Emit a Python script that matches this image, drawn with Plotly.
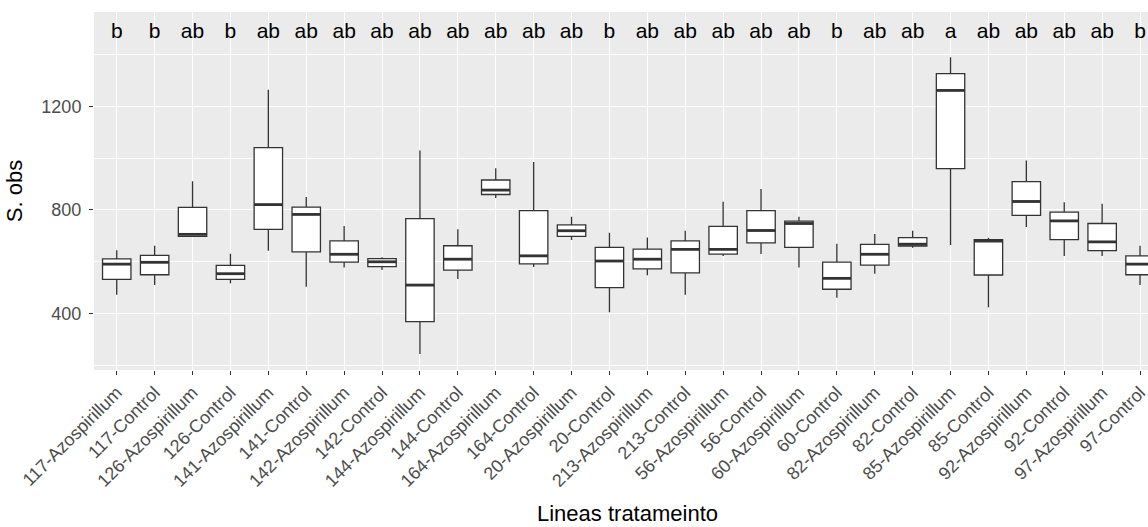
import plotly.graph_objects as go

categories = ["117-Azospirillum", "117-Control", "126-Azospirillum", "126-Control",
              "141-Azospirillum", "141-Control", "142-Azospirillum", "142-Control",
              "144-Azospirillum", "144-Control", "164-Azospirillum", "164-Control",
              "20-Azospirillum", "20-Control", "213-Azospirillum", "213-Control",
              "56-Azospirillum", "56-Control", "60-Azospirillum", "60-Control",
              "82-Azospirillum", "82-Control", "85-Azospirillum", "85-Control",
              "92-Azospirillum", "92-Control", "97-Azospirillum", "97-Control"]

lower = [472, 509, 697, 516, 642, 503, 577, 567, 243, 533, 845, 579, 683, 404,
         547, 472, 621, 629, 577, 460, 553, 653, 664, 423, 733, 621, 621, 509]
q1 = [531, 549, 697, 531, 724, 637, 598, 580, 368, 567, 859, 591, 697, 499,
      572, 556, 629, 672, 655, 493, 586, 660, 959, 548, 778, 685, 642, 549]
median = [590, 597, 705, 553, 820, 782, 628, 599, 509, 609, 876, 622, 719, 602,
          609, 647, 647, 720, 747, 535, 628, 667, 1261, 679, 832, 757, 676, 590]
q3 = [610, 624, 809, 585, 1040, 810, 680, 611, 766, 661, 915, 797, 742, 655,
      648, 680, 736, 797, 756, 598, 666, 692, 1326, 685, 909, 791, 747, 622]
upper = [644, 661, 910, 630, 1264, 849, 737, 617, 1029, 725, 960, 985, 773, 711,
         693, 719, 831, 880, 773, 669, 706, 719, 1389, 692, 990, 829, 823, 661]
letters = ["b", "b", "ab", "b", "ab", "ab", "ab", "ab", "ab", "ab", "ab", "ab", "ab", "b",
           "ab", "ab", "ab", "ab", "ab", "b", "ab", "ab", "a", "ab", "ab", "ab", "ab", "b"]
y_ticks = [400, 800, 1200]
y_minor = [200, 600, 1000, 1400]
letter_y = 1485

xs = list(range(len(categories)))
BOX_W = 0.75

fig = go.Figure()
fig.add_trace(go.Box(
    x=xs, q1=q1, median=median, q3=q3, lowerfence=lower, upperfence=upper,
    width=BOX_W, fillcolor="white", line=dict(color="#333333", width=1.3),
    whiskerwidth=0, boxpoints=False, hoverinfo="skip", showlegend=False,
))

mx, my = [], []
for i, m in zip(xs, median):
    mx += [i - BOX_W / 2, i + BOX_W / 2, None]
    my += [m, m, None]
fig.add_trace(go.Scatter(x=mx, y=my, mode="lines",
                         line=dict(color="#333333", width=2.8),
                         hoverinfo="skip", showlegend=False))

fig.add_trace(go.Scatter(x=xs, y=[letter_y] * len(xs), mode="text", text=letters,
                         textposition="middle center",
                         textfont=dict(family="Liberation Sans, Arial", size=21, color="black"),
                         hoverinfo="skip", showlegend=False))

fig.update_layout(
    width=1148, height=527,
    margin=dict(l=94, r=0, t=12, b=157),
    paper_bgcolor="white", plot_bgcolor="#EBEBEB",
    font=dict(family="Liberation Sans, Arial", color="#4D4D4D", size=18),
    showlegend=False,
    xaxis=dict(
        range=[-0.6, 27.21], tickmode="array", tickvals=xs, ticktext=categories,
        tickangle=-45, showgrid=True, gridcolor="white", gridwidth=1.1,
        zeroline=False, ticks="outside", ticklen=4, tickwidth=1.1, tickcolor="#333333",
        tickfont=dict(size=18, color="#4D4D4D"), ticklabeloverflow="allow",
    ),
    yaxis=dict(
        range=[181, 1564], tickmode="array", tickvals=y_ticks,
        showgrid=True, gridcolor="white", gridwidth=1.1, zeroline=False,
        ticks="outside", ticklen=4, tickwidth=1.1, tickcolor="#333333",
        tickfont=dict(size=18, color="#4D4D4D"), ticklabelstandoff=4,
        minor=dict(tickmode="array", tickvals=y_minor, showgrid=True,
                   gridcolor="white", gridwidth=0.55),
        title=dict(text="S. obs", font=dict(size=22, color="black"), standoff=12),
    ),
    annotations=[dict(text="Lineas tratameinto", xref="paper", yref="paper",
                      x=0.5066, y=0, yshift=-143, xanchor="center", yanchor="middle",
                      showarrow=False, font=dict(size=22, color="black"))],
)

fig.write_html("out.html")
